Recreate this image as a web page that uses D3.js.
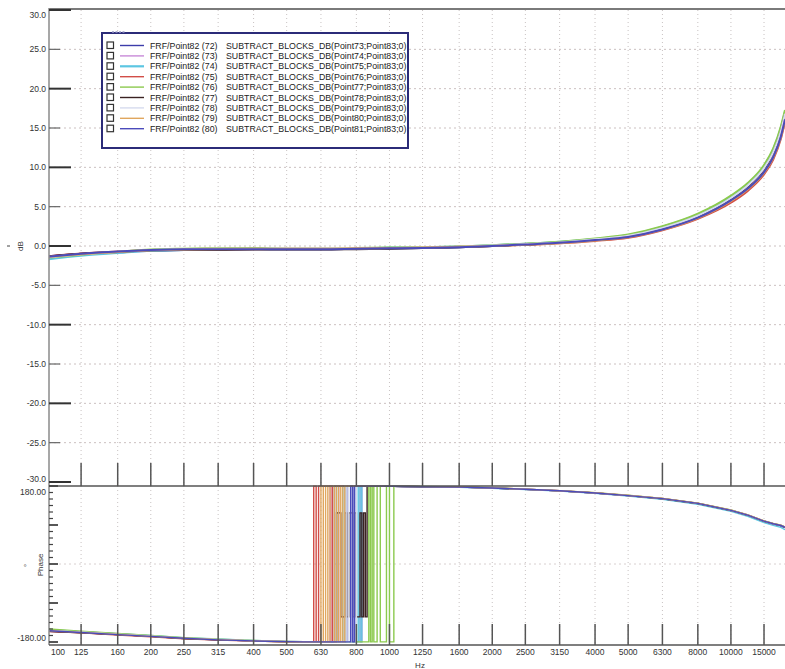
<!DOCTYPE html>
<html>
<head>
<meta charset="utf-8">
<script src="https://cdn.jsdelivr.net/npm/d3@7"></script>
<style>
  body { margin: 0; background: #fff; }
  svg { display: block; font-family: "Liberation Sans", Arial, sans-serif; }
</style>
</head>
<body>
<script>
// frequencies (Hz)
const freqsDb = [100,125,160,200,250,315,400,500,630,800,1000,1250,1600,2000,2500,3150,4000,5000,6300,8000,10000,11200,12500,13300,14000,14400]
const freqsPhase = [100,125,160,200,250,315,400,500,560,
    600,610,620,630,640,650,660,670,680,690,700,710,720,730,740,750,760,770,780,790,800,810,820,830,840,850,860,870,880,890,900,920,940,960,980,1000,1030,
    1100,1250,1600,2000,2500,3150,4000,5000,6300,8000,10000,11200,12500,13300,14000,14400]

// x tick values and labels as shown
const xTicks = [100,125,160,200,250,315,400,500,630,800,1000,1250,1600,2000,2500,3150,4000,5000,6300,8000,10000,12500]
const xTickLabels = ["100","125","160","200","250","315","400","500","630","800","1000","1250","1600","2000","2500","3150","4000","5000","6300","8000","10000","15000"]

const seriesIds = [72,73,74,75,76,77,78,79,80]
const seriesColors = ["#3c3caa","#c88ad8","#5cc6e2","#d24e48","#8cca4e","#3a2222","#d6dbee","#e0a65e","#4b4bbb"]

// magnitude (dB) per series
const db72 = [-1.3,-1.0,-0.8,-0.6,-0.5,-0.45,-0.4,-0.4,-0.4,-0.35,-0.3,-0.25,-0.15,0.0,0.2,0.4,0.75,1.2,2.2,3.7,5.9,7.5,9.6,11.6,14.2,16.4]
const db73 = [-1.5,-1.1,-0.8,-0.55,-0.45,-0.4,-0.35,-0.3,-0.35,-0.3,-0.25,-0.2,-0.1,0.05,0.25,0.45,0.8,1.25,2.25,3.75,5.9,7.4,9.5,11.4,14.0,16.2]
const db74 = [-1.7,-1.25,-0.9,-0.6,-0.5,-0.4,-0.35,-0.35,-0.3,-0.3,-0.2,-0.15,-0.05,0.1,0.3,0.55,0.9,1.4,2.45,4.0,6.3,7.9,10.2,12.3,15.0,17.1]
const db75 = [-1.3,-0.95,-0.7,-0.5,-0.4,-0.35,-0.3,-0.3,-0.3,-0.25,-0.25,-0.2,-0.1,0.0,0.15,0.35,0.65,1.05,2.0,3.45,5.5,7.0,9.1,11.0,13.6,15.8]
const db76 = [-1.5,-1.1,-0.75,-0.45,-0.35,-0.3,-0.3,-0.3,-0.3,-0.25,-0.2,-0.15,-0.05,0.1,0.3,0.55,0.95,1.45,2.5,4.1,6.4,8.0,10.3,12.4,15.2,17.3]
const db77 = [-1.35,-1.0,-0.75,-0.55,-0.5,-0.5,-0.45,-0.45,-0.45,-0.4,-0.35,-0.25,-0.15,0.0,0.2,0.4,0.75,1.2,2.2,3.75,6.0,7.6,9.8,11.8,14.5,16.7]
const db78 = [-1.45,-1.05,-0.75,-0.5,-0.4,-0.35,-0.35,-0.3,-0.3,-0.3,-0.25,-0.2,-0.1,0.05,0.25,0.45,0.85,1.3,2.3,3.85,6.1,7.7,9.9,11.9,14.6,16.8]
const db79 = [-1.4,-1.05,-0.75,-0.55,-0.45,-0.4,-0.4,-0.35,-0.35,-0.3,-0.25,-0.2,-0.1,0.0,0.15,0.35,0.7,1.1,2.05,3.55,5.7,7.2,9.3,11.2,13.8,16.0]
const db80 = [-1.35,-1.0,-0.7,-0.5,-0.4,-0.4,-0.4,-0.4,-0.4,-0.35,-0.3,-0.25,-0.15,0.0,0.2,0.4,0.75,1.15,2.1,3.6,5.8,7.3,9.4,11.3,13.9,16.1]

// phase (deg) per series, wrapped to [-180,180]; noisy around the wrap near 600-1000 Hz
const ph72 = [-155,-158,-163,-167,-172,-175,-177.5,-179.2,-179.6,
    -179.7,-179.7,-179.7,-179.7,-179.7,-179.7,-179.7,-179.7,-179.7,-179.7,-179.7,-179.7,-179.7,-179.7,-179.7,179.7,179.7,179.7,-179.7,179.7,179.7,179.7,179.7,179.7,179.7,179.7,179.7,179.7,179.7,179.7,179.7,179.7,179.7,179.6,179.6,179.5,179.4,
    179,178.4,177.4,175.4,172.4,168.8,163.8,157.8,150.6,139.5,123.5,112.2,98.2,92,88,84]
const ph73 = [-152,-156,-161,-166,-171,-174,-177,-179,-179.5,
    -179.7,-179.7,-179.7,-179.7,-179.7,-179.7,-179.7,179.7,-179.7,-179.7,-179.7,179.7,179.7,179.7,179.7,179.7,179.7,179.7,179.7,179.7,179.7,179.7,-179.7,179.7,179.7,179.7,179.7,179.7,179.7,179.7,179.7,179.7,179.7,179.6,179.6,179.5,179.4,
    179.1,178.6,177.6,175.6,172.6,169.2,164.2,158.2,151.2,140.2,124.2,113.2,99.2,93.2,89.2,85.2]
const ph74 = [-151,-156,-161,-165,-170,-173,-176.5,-178.8,-179.4,
    -179.7,-179.7,-179.7,-179.7,-179.7,-179.7,-179.7,-179.7,-179.7,179.7,-179.7,-179.7,-179.7,179.7,-179.7,-179.7,-179.7,-179.7,-179.7,-179.7,-179.7,179.7,-179.7,179.7,179.7,179.7,179.7,179.7,179.7,179.7,179.7,179.7,179.7,179.6,179.5,179.4,179.3,
    178.8,178.2,177.1,174.9,171.8,168.2,163,156.8,149.5,138,121.5,110,95.5,89,84.5,79]
const ph75 = [-156,-159,-164,-168,-172.5,-175.5,-178,-179.5,-179.8,
    179.7,-179.7,179.7,179.7,179.7,179.7,179.7,179.7,-179.7,179.7,179.7,179.7,179.7,179.7,179.7,179.7,179.7,179.7,179.7,179.7,179.7,179.7,179.7,179.7,179.7,179.7,179.7,179.7,179.7,179.7,179.7,179.6,179.6,179.5,179.4,179.3,179.2,
    179,178.5,177.5,175.5,172.5,169,164,158,151,140,124,113,99,93,89,85]
const ph76 = [-150,-155,-160,-165,-170,-173.5,-176.5,-178.8,-179.3,
    -179.4,-179.5,-179.5,-179.6,-179.6,-179.6,-179.7,-179.7,-179.7,-179.7,-179.7,-179.7,-179.7,-179.7,-179.7,-179.7,-179.7,-179.7,-179.7,-179.7,-179.7,-179.7,-179.7,-179.7,-179.7,-179.7,-179.7,179.7,-179.7,179.7,-179.7,179.7,-179.7,-179.7,179.7,-179.7,179.6,
    179.3,178.7,177.7,175.8,172.8,169.4,164.5,158.5,151.5,140.5,124.5,113.5,99.5,93.5,89.5,85.5]
const ph77 = [-155,-159,-163,-167,-172,-175,-177.5,-179.3,-179.7,
    -179.7,-179.7,-179.7,-179.7,-179.7,-179.7,-179.7,-179.7,-179.7,-179.7,118,118,-122,-122,118,-122,118,118,-122,118,-122,-122,118,-122,118,-122,179.7,179.7,179.7,179.7,179.7,179.6,179.6,179.5,179.4,179.4,179.3,
    179,178.4,177.4,175.3,172.3,168.8,163.8,157.7,150.7,139.6,123.6,112.6,98.6,92.6,88.6,84.6]
const ph78 = [-153,-157,-162,-166,-171,-174,-177,-179,-179.5,
    -179.7,-179.7,-179.7,-179.7,-179.7,-179.7,-179.7,-179.7,-179.7,-179.7,-179.7,-179.7,-179.7,-179.7,179.7,-179.7,179.7,-179.7,179.7,-179.7,179.7,179.7,179.7,179.7,179.7,179.7,179.7,179.7,179.7,179.7,179.7,179.7,179.6,179.6,179.5,179.4,179.3,
    179,178.5,177.5,175.5,172.5,169,164,158,151,140,124,113,99,93,89,85]
const ph79 = [-154,-158,-162.5,-167,-171.5,-174.5,-177.5,-179.3,-179.7,
    -179.7,-179.7,-179.7,179.7,-179.7,179.7,-179.7,179.7,179.7,-179.7,179.7,-179.7,179.7,-179.7,179.7,179.7,179.7,179.7,179.7,179.7,179.7,179.7,179.7,179.7,179.7,179.7,179.7,179.7,179.7,179.7,179.7,179.6,179.6,179.5,179.4,179.3,179.2,
    179.1,178.6,177.6,175.6,172.7,169.2,164.3,158.3,151.3,140.4,124.4,113.4,99.4,93.4,89.4,85.4]
const ph80 = [-154,-158,-163,-167,-171.5,-175,-177.5,-179.2,-179.6,
    -179.7,-179.7,-179.7,-179.7,-179.7,-179.7,-179.7,-179.7,-179.7,-179.7,-179.7,-179.7,-179.7,-179.7,-179.7,-179.7,-179.7,179.7,-179.7,179.7,179.7,179.7,179.7,179.7,179.7,179.7,179.7,179.7,179.7,179.7,179.7,179.7,179.6,179.6,179.5,179.4,179.3,
    179,178.4,177.4,175.4,172.4,168.9,163.9,157.9,150.9,139.9,123.8,112.8,98.8,92.8,88.8,84.8]

const dbData = [db72,db73,db74,db75,db76,db77,db78,db79,db80]
const phData = [ph72,ph73,ph74,ph75,ph76,ph77,ph78,ph79,ph80]

const width = 785
const height = 669
const left = 49, right = 785
const dbTop = 10, dbBottom = 482, split = 486
const phTop = 486, phBottom = 645

const svg = d3.select("body").append("svg")
    .attr("width", width)
    .attr("height", height)

// scales
let x = d3.scaleLog().domain([100, 14400]).range([48, 785])
let yDb = d3.scaleLinear().domain([-30, 30]).range([dbBottom, dbTop])
let yPh = d3.scaleLinear().domain([-180, 180]).range([642, 486])

const defs = svg.append("defs")
defs.append("clipPath").attr("id", "clipDb").append("rect")
    .attr("x", left).attr("y", dbTop - 1).attr("width", right - left).attr("height", split - dbTop + 1)
defs.append("clipPath").attr("id", "clipPh").append("rect")
    .attr("x", left).attr("y", phTop - 1).attr("width", right - left).attr("height", phBottom - phTop + 1)

// grid
const grid = svg.append("g")
grid.selectAll(".vg").data(xTicks.slice(1)).enter().append("line")
    .attr("x1", d => x(d)).attr("x2", d => x(d))
    .attr("y1", dbTop).attr("y2", phBottom)
    .attr("stroke", "#c8c2c2").attr("stroke-width", 1).attr("stroke-dasharray", "1,3")
grid.selectAll(".hg").data(d3.range(-25, 30, 5)).enter().append("line")
    .attr("x1", left).attr("x2", right)
    .attr("y1", d => yDb(d)).attr("y2", d => yDb(d))
    .attr("stroke", "#cbc0c0").attr("stroke-width", 1).attr("stroke-dasharray", "2,3")
grid.append("line")
    .attr("x1", left).attr("x2", right)
    .attr("y1", yPh(0)).attr("y2", yPh(0))
    .attr("stroke", "#d8d0d0").attr("stroke-width", 1).attr("stroke-dasharray", "2,3")

// curves
const lineDb = d3.line()
    .x((d, i) => x(freqsDb[i]))
    .y(d => yDb(d))
    .curve(d3.curveMonotoneX)

// phase: a jump bigger than 180 deg between two samples is drawn as a vertical step at the later sample
function phasePath(vals) {
    let p = d3.path()
    p.moveTo(x(freqsPhase[0]), yPh(vals[0]))
    for (let i = 1; i < vals.length; i++) {
        if (Math.abs(vals[i] - vals[i - 1]) > 180) {
            p.lineTo(x(freqsPhase[i]), yPh(vals[i - 1]))
        }
        p.lineTo(x(freqsPhase[i]), yPh(vals[i]))
    }
    return p.toString()
}

svg.append("g").attr("clip-path", "url(#clipPh)")
    .selectAll("path").data(phData).enter().append("path")
    .attr("d", phasePath)
    .attr("fill", "none")
    .attr("stroke", (d, i) => seriesColors[i])
    .attr("stroke-width", 1.4)

svg.append("g").attr("clip-path", "url(#clipDb)")
    .selectAll("path").data(dbData).enter().append("path")
    .attr("d", lineDb)
    .attr("fill", "none")
    .attr("stroke", (d, i) => seriesColors[i])
    .attr("stroke-width", 2)

// frames
svg.append("line").attr("x1", left).attr("x2", right).attr("y1", 9).attr("y2", 9)
    .attr("stroke", "#7a7a7a").attr("stroke-width", 2)
svg.append("line").attr("x1", left).attr("x2", left).attr("y1", 8).attr("y2", phBottom)
    .attr("stroke", "#8a8a8a").attr("stroke-width", 1.5)
svg.append("line").attr("x1", left).attr("x2", right).attr("y1", split).attr("y2", split)
    .attr("stroke", "#555").attr("stroke-width", 1.5)
svg.append("line").attr("x1", left).attr("x2", right).attr("y1", phBottom).attr("y2", phBottom)
    .attr("stroke", "#555").attr("stroke-width", 1.5)

// x ticks in both panels
const xt = svg.append("g")
xt.selectAll(".t1").data(xTicks.slice(1)).enter().append("line")
    .attr("x1", d => x(d)).attr("x2", d => x(d))
    .attr("y1", 463).attr("y2", split)
    .attr("stroke", "#555").attr("stroke-width", 1.5)
xt.selectAll(".t2").data(xTicks.slice(1)).enter().append("line")
    .attr("x1", d => x(d)).attr("x2", d => x(d))
    .attr("y1", 624).attr("y2", phBottom)
    .attr("stroke", "#555").attr("stroke-width", 1.5)
xt.selectAll("text").data(xTicks).enter().append("text")
    .attr("x", d => Math.max(x(d), 58))
    .attr("y", 655)
    .attr("text-anchor", "middle")
    .attr("font-size", "8.5px")
    .attr("fill", "#333")
    .text((d, i) => xTickLabels[i])
svg.append("text").attr("x", 420).attr("y", 668).attr("text-anchor", "middle")
    .attr("font-size", "8px").attr("fill", "#333").text("Hz")

// dB axis
const ya = svg.append("g")
const dbTicks = d3.range(-30, 31, 5)
ya.selectAll("line").data(dbTicks).enter().append("line")
    .attr("x1", left).attr("x2", d => d % 10 === 0 ? 71 : 60)
    .attr("y1", d => yDb(d)).attr("y2", d => yDb(d))
    .attr("stroke", d => d % 10 === 0 ? "#333" : "#666")
    .attr("stroke-width", d => d % 10 === 0 ? 2 : 1.2)
ya.selectAll("text").data(dbTicks).enter().append("text")
    .attr("x", 46)
    .attr("y", d => Math.min(Math.max(yDb(d), 15), 479) + 3)
    .attr("text-anchor", "end")
    .attr("font-size", "8.5px")
    .attr("fill", "#333")
    .text(d => d.toFixed(1))
svg.append("text").attr("transform", "translate(23,246) rotate(-90)")
    .attr("text-anchor", "middle").attr("font-size", "8px").attr("fill", "#333").text("dB")
svg.append("line").attr("x1", 7).attr("x2", 10).attr("y1", 246).attr("y2", 246)
    .attr("stroke", "#444").attr("stroke-width", 1)

// phase axis
const pa = svg.append("g")
const phTicks = d3.range(-180, 181, 15)
pa.selectAll("line").data(phTicks).enter().append("line")
    .attr("x1", left).attr("x2", d => d % 90 === 0 ? 58 : 53)
    .attr("y1", d => yPh(d)).attr("y2", d => yPh(d))
    .attr("stroke", "#444")
    .attr("stroke-width", d => d % 90 === 0 ? 1.8 : 1.2)
pa.selectAll("text").data([180, -180]).enter().append("text")
    .attr("x", 46)
    .attr("y", d => d > 0 ? 495 : 641)
    .attr("text-anchor", "end")
    .attr("font-size", "8.5px")
    .attr("fill", "#333")
    .text(d => d.toFixed(2))
svg.append("text").attr("transform", "translate(43,565) rotate(-90)")
    .attr("text-anchor", "middle").attr("font-size", "8px").attr("fill", "#333").text("Phase")
svg.append("text").attr("x", 25).attr("y", 570).attr("text-anchor", "middle")
    .attr("font-size", "8px").attr("fill", "#444").text("°")

// legend
const lg = svg.append("g")
lg.append("rect").attr("x", 102).attr("y", 33).attr("width", 306).attr("height", 115)
    .attr("fill", "#fff").attr("stroke", "#2b2b78").attr("stroke-width", 2)
lg.append("line").attr("x1", 112).attr("x2", 126).attr("y1", 32).attr("y2", 32)
    .attr("stroke", "#9a9ac8").attr("stroke-width", 1.5).attr("stroke-dasharray", "2,1.5")
const rows = lg.selectAll(".row").data(seriesIds).enter().append("g")
    .attr("transform", (d, i) => "translate(0," + (45 + i * 10.4) + ")")
rows.append("rect").attr("x", 107).attr("y", -3).attr("width", 6.5).attr("height", 6.5)
    .attr("fill", "#fff").attr("stroke", "#333").attr("stroke-width", 1.2)
rows.append("line").attr("x1", 120).attr("x2", 144).attr("y1", 0.5).attr("y2", 0.5)
    .attr("stroke", (d, i) => seriesColors[i])
    .attr("stroke-width", (d, i) => i === 2 ? 2.2 : 1.4)
rows.append("text").attr("x", 150).attr("y", 3.5)
    .attr("font-size", "8.8px").attr("fill", "#222")
    .text(d => "FRF/Point82 (" + d + ")")
rows.append("text").attr("x", 226).attr("y", 3.5)
    .attr("font-size", "8.8px").attr("fill", "#222")
    .text(d => "SUBTRACT_BLOCKS_DB(Point" + (d + 1) + ";Point83;0)")
</script>
</body>
</html>
